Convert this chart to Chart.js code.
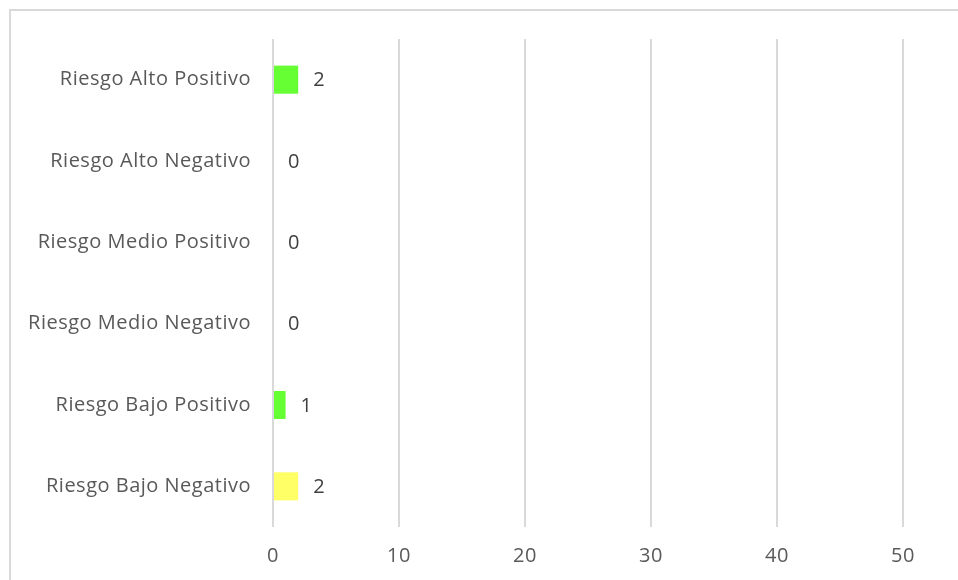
<!DOCTYPE html>
<html>
<head>
<meta charset="utf-8">
<script src="https://cdn.jsdelivr.net/npm/chart.js@4"></script>
<style>
  html, body { margin: 0; padding: 0; background: #fff; overflow: hidden; }
  #frame { position: absolute; left: 9px; top: 9px; width: 1000px; height: 640px; border: 2px solid #d9d9d9; box-sizing: border-box; }
  #wrap { position: absolute; left: 0; top: 0; width: 958px; height: 580px; }
</style>
</head>
<body>
<div id="frame"></div>
<div id="wrap"><canvas id="c" width="958" height="580"></canvas></div>
<script>
const categories = [
  "Riesgo Alto Positivo",
  "Riesgo Alto Negativo",
  "Riesgo Medio Positivo",
  "Riesgo Medio Negativo",
  "Riesgo Bajo Positivo",
  "Riesgo Bajo Negativo"
];
const counts = [2, 0, 0, 0, 1, 2];
const barColors = ["#66ff33", "#66ff33", "#66ff33", "#66ff33", "#66ff33", "#ffff66"];
const xTicks = [0, 10, 20, 30, 40, 50];

const FONT = "'Open Sans', Lato, sans-serif";

// Slightly open text tracking for all chart text
const tracking = {
  id: "tracking",
  beforeDraw(chart) { chart.ctx.letterSpacing = "0.5px"; }
};

// Writes each bar's count just past its end
const valueLabels = {
  id: "valueLabels",
  afterDatasetsDraw(chart) {
    const ctx = chart.ctx;
    const meta = chart.getDatasetMeta(0);
    ctx.save();
    ctx.font = "20px " + FONT;
    ctx.fillStyle = "#404040";
    ctx.textAlign = "left";
    ctx.textBaseline = "middle";
    meta.data.forEach((bar, i) => {
      ctx.fillText(String(counts[i]), bar.x + 15, bar.y + 1);
    });
    ctx.restore();
  }
};

new Chart(document.getElementById("c"), {
  type: "bar",
  data: {
    labels: categories,
    datasets: [{
      data: counts,
      backgroundColor: barColors,
      borderWidth: 0,
      categoryPercentage: 1,
      barPercentage: 0.345
    }]
  },
  options: {
    indexAxis: "y",
    responsive: false,
    animation: false,
    layout: { padding: { left: 0, right: 55, top: 39, bottom: 0 } },
    plugins: { legend: { display: false }, tooltip: { enabled: false } },
    scales: {
      x: {
        min: 0,
        max: 50,
        afterBuildTicks(scale) { scale.ticks = xTicks.map(v => ({ value: v })); },
        grid: { color: "#d9d9d9", lineWidth: 2, drawTicks: false },
        border: { display: false },
        ticks: { color: "#595959", font: { family: FONT, size: 20 }, padding: 17 },
        afterFit(scale) { scale.height = 53; }
      },
      y: {
        grid: { display: false },
        border: { display: false },
        ticks: { color: "#595959", font: { family: FONT, size: 20 }, padding: 14 },
        afterFit(scale) { scale.width = 273; }
      }
    }
  },
  plugins: [tracking, valueLabels]
});
</script>
</body>
</html>
